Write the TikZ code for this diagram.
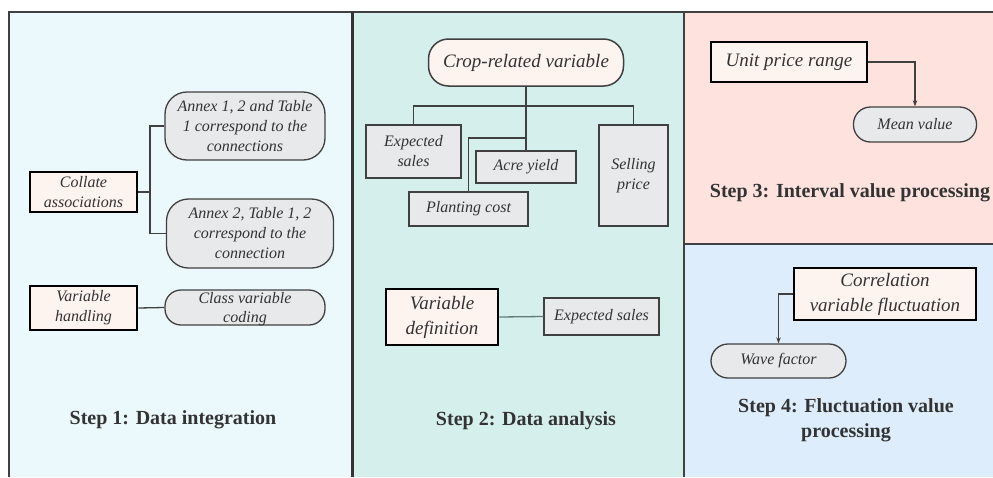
\documentclass[tikz,border=0pt]{standalone}
\usepackage{fontspec}
\setmainfont{Liberation Serif}[
  ItalicFont={Liberation Serif Italic},
  BoldFont={Liberation Serif Bold},
  BoldItalicFont={Liberation Serif Bold Italic}]
\usetikzlibrary{arrows.meta}

\definecolor{panelA}{HTML}{EBF9FD}
\definecolor{panelB}{HTML}{D5F0EC}
\definecolor{panelC}{HTML}{FDE2DE}
\definecolor{panelD}{HTML}{DDEDFC}
\definecolor{peach}{HTML}{FDF3EF}
\definecolor{boxgray}{HTML}{E8E9EB}
\definecolor{ink}{HTML}{333333}
\definecolor{edge}{HTML}{404040}
\definecolor{tealline}{HTML}{5E7C7A}

\tikzset{
  txt/.style={font=\fontsize{16}{20}\selectfont\itshape, text=ink, align=center, inner sep=0pt},
  bigtxt/.style={font=\fontsize{19}{25}\selectfont\itshape, text=ink, align=center, inner sep=0pt},
  keybox/.style={draw=black, line width=2.8pt, fill=peach},
  graybox/.style={draw=edge, line width=1.3pt, fill=boxgray},
  pillbox/.style={draw=edge, line width=1.3pt, fill=boxgray, rounded corners=16pt},
  link/.style={draw=edge, line width=1.3pt},
  arrowlink/.style={draw=edge, line width=1.2pt, -{Stealth[length=6pt,width=4.5pt]}},
  steptitle/.style={font=\fontsize{20}{24.5}\selectfont\bfseries, text=ink, align=center, inner sep=0pt},
}

\begin{document}
\begin{tikzpicture}[x=1pt, y=-1pt]
\path[use as bounding box] (0,0) rectangle (993,477);

% panel backgrounds
\fill[panelA] (9,12) rectangle (352,477);
\fill[panelB] (352,12) rectangle (684,477);
\fill[panelC] (684,12) rectangle (993,244);
\fill[panelD] (684,244) rectangle (993,477);

% panel frames
\draw[line width=1.6pt, edge] (9,477) -- (9,12) -- (993,12);
\draw[line width=1.6pt, edge] (684,12) -- (684,477);
\draw[line width=1.6pt, edge] (684,244) -- (993,244);
\draw[line width=3pt, ink] (352,12) -- (352,477);

% ---------- Step 1 ----------
\node[txt, keybox, minimum width=107pt, minimum height=40pt] (collate) at (83.5,192) {Collate\\associations};
\node[txt, pillbox, rounded corners=22pt, minimum width=160pt, minimum height=68pt] (annexA) at (245,126)
  {Annex 1, 2 and Table\\1 correspond to the\\connections};
\node[txt, pillbox, rounded corners=22pt, minimum width=167pt, minimum height=69pt] (annexB) at (250,233.5)
  {Annex 2, Table 1, 2\\correspond to the\\connection};
\node[txt, keybox, minimum width=107pt, minimum height=44pt] (varh) at (83.5,308) {Variable\\handling};
\node[pillbox, minimum width=160pt, minimum height=35pt] (classv) at (245,307.5) {};
\node[txt, font=\fontsize{16}{19}\selectfont\itshape] (classvt) at (245,309) {Class variable\\coding};

\coordinate (j1) at (150,192);
\draw[link] (collate.east) -- (j1);
\draw[link] (annexA.west) -| (j1) |- (annexB.west);
\draw[link] (varh.east) -- (classv.west);

\node[steptitle] (step1) at (173,420) {Step 1: Data integration};

% ---------- Step 2 ----------
\node[bigtxt, keybox, line width=1.5pt, draw=edge, rounded corners=20pt, minimum width=195pt, minimum height=47pt] (crop) at (526,62.5)
  {Crop-related variable};
\node[txt, graybox, minimum width=95pt, minimum height=53pt] (exps) at (413.5,151.5) {Expected\\sales};
\node[txt, graybox, minimum width=100pt, minimum height=32pt] (acre) at (526,167) {Acre yield};
\node[txt, graybox, minimum width=119pt, minimum height=34pt] (plant) at (468.5,209) {Planting cost};
\node[txt, graybox, minimum width=69pt, minimum height=101pt] (sell) at (633.5,175.5) {Selling\\price};

\coordinate (hb) at (526,106);
\coordinate (pj) at (526,138);
\draw[link] (crop.south) -- (acre.north);
\draw[link] (exps.north) -- (exps.north |- hb) -- (sell.north |- hb) -- (sell.north);
\draw[link] (plant.north) |- (pj);

\node[bigtxt, keybox, minimum width=112pt, minimum height=56pt] (vdef) at (442,317) {Variable\\definition};
\node[txt, graybox, minimum width=115pt, minimum height=37pt] (exps2) at (601.5,316.5) {Expected sales};
\draw[link, draw=tealline] (vdef.east) -- (exps2.west);

\node[steptitle] (step2) at (526,421) {Step 2: Data analysis};

% ---------- Step 3 ----------
\node[bigtxt, keybox, minimum width=156pt, minimum height=40pt] (unit) at (789,62) {Unit price range};
\node[txt, pillbox, rounded corners=17pt, minimum width=123pt, minimum height=35pt] (mean) at (915,124.5) {Mean value};
\draw[arrowlink] (unit.east) -| (mean.north);

\node[steptitle] (step3) at (850,193) {Step 3: Interval value processing};

% ---------- Step 4 ----------
\node[bigtxt, keybox, minimum width=182pt, minimum height=52pt] (corr) at (885,294) {Correlation\\variable fluctuation};
\node[txt, pillbox, rounded corners=17pt, minimum width=135pt, minimum height=34pt] (wave) at (778.5,361) {Wave factor};
\draw[arrowlink] (corr.west) -| (wave.north);

\node[steptitle] (step4) at (846,420.5) {Step 4: Fluctuation value\\processing};
\end{tikzpicture}
\end{document}
